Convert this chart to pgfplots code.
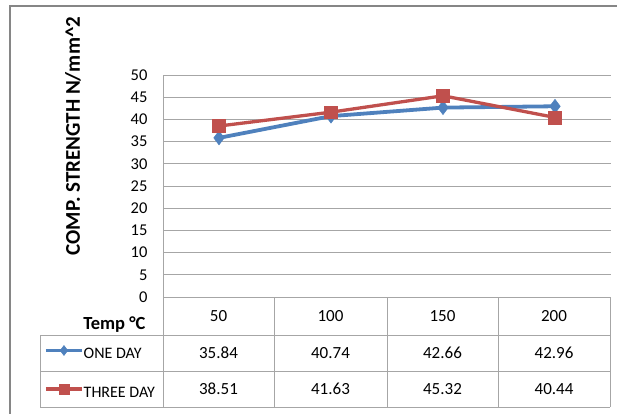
\documentclass[border=0pt]{standalone}
\usepackage{fontspec}
\setmainfont{Carlito}
\usepackage{pgfplots}
\pgfplotsset{compat=1.18}
\definecolor{exblue}{HTML}{4F81BD}
\definecolor{exred}{HTML}{C0504D}
\definecolor{gridgray}{HTML}{A6A6A6}
\definecolor{framegray}{HTML}{868686}

\begin{document}
\begin{tikzpicture}
\begin{axis}[
	at={(163pt,-297pt)}, anchor=south west,
	scale only axis, width=448pt, height=222pt,
	xmin=0.5, xmax=4.5, ymin=0, ymax=50,
	xtick=\empty, ytick={0,5,...,50},
	axis lines*=left,
	ymajorgrids, grid style={gridgray, line width=1pt},
	axis line style={gridgray, line width=1pt},
	major tick length=0pt,
	/pgf/number format/assume math mode=true,
	yticklabel style={font=\fontsize{16.5}{16.5}\selectfont, xshift=-12pt},
	legend style={at={(-0.2656,-0.3423)}, anchor=west, draw=none, fill=none,
		inner sep=0pt, font=\fontsize{16}{16}\selectfont,
		nodes={inner sep=0pt, text height=11pt, text depth=3pt},
		row sep=22pt, /tikz/every even column/.append style={column sep=2pt}},
	legend cell align=left,
	legend image code/.code={
		\draw[#1, line width=3.5pt, mark size=5pt, mark repeat=2, mark phase=2]
		plot coordinates {(0pt,4.5pt) (18pt,4.5pt) (36pt,4.5pt)};
	},
]
\addplot[exblue, line width=3.8pt, mark=diamond*, mark size=7pt,
	mark options={line width=0.5pt}]
	coordinates {(1,35.84) (2,40.74) (3,42.66) (4,42.96)};
\addplot[exred, line width=3.3pt, mark=square*, mark size=6.3pt,
	mark options={line width=0.5pt}]
	coordinates {(1,38.51) (2,41.63) (3,45.32) (4,40.44)};
\legend{ONE DAY, THREE DAY}
\end{axis}

\begin{scope}[x=1pt,y=1pt]
% outer chart frame (cut off at right and bottom)
\draw[framegray, line width=1.5pt] (10,-414) -- (10,-6) -- (617,-6);

% data table under the plot
\draw[gridgray, line width=1pt]
	(40,-335) -- (610,-335)
	(40,-371) -- (610,-371)
	(40,-407) -- (610,-407)
	(40,-335) -- (40,-407)
	(163,-297) -- (163,-407)
	(274,-297) -- (274,-407)
	(387,-297) -- (387,-407)
	(498,-297) -- (498,-407)
	(610,-297) -- (610,-407);

\node[anchor=east, font=\bfseries\fontsize{18.5}{18.5}\selectfont] at (149,-325) {Temp °C};
\node[rotate=90, font=\bfseries\fontsize{21}{21}\selectfont] at (73,-136)
	{COMP. STRENGTH N/mm\textasciicircum 2};

\foreach \cx/\a/\b/\c in {218.5/50/35.84/38.51, 330.5/100/40.74/41.63,
		442.5/150/42.66/45.32, 554/200/42.96/40.44} {
	\node[font=\fontsize{17}{17}\selectfont] at (\cx,-316) {\a};
	\node[font=\fontsize{17}{17}\selectfont] at (\cx,-353) {\b};
	\node[font=\fontsize{17}{17}\selectfont] at (\cx,-389) {\c};
}

\pgfresetboundingbox
\path[use as bounding box] (0,0) rectangle (617,-414);
\end{scope}
\end{tikzpicture}
\end{document}
